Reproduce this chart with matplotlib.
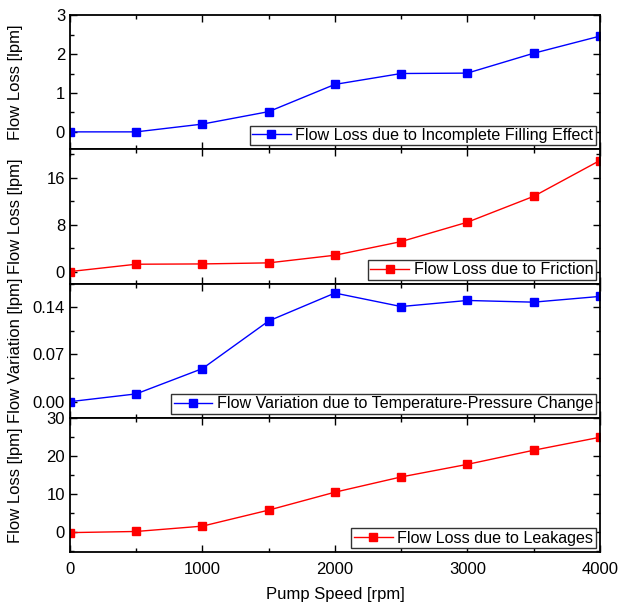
import matplotlib
matplotlib.use("Agg")
import matplotlib.pyplot as plt
from matplotlib.ticker import MultipleLocator

plt.rcParams['font.family'] = ['Liberation Sans', 'DejaVu Sans']
plt.rcParams['font.size'] = 12

# pump speed [rpm]
speed = [0, 500, 1000, 1500, 2000, 2500, 3000, 3500, 4000]

# flow losses / variation [lpm]
filling = [0.0, 0.0, 0.2, 0.52, 1.22, 1.5, 1.51, 2.02, 2.46]
friction = [0.0, 1.25, 1.3, 1.48, 2.78, 5.1, 8.4, 12.8, 18.9]
temp_press = [0.0, 0.0115, 0.049, 0.1196, 0.161, 0.141, 0.150, 0.1475, 0.156]
leakage = [-0.1, 0.2, 1.6, 5.8, 10.5, 14.5, 17.8, 21.5, 24.9]

labels = ['Flow Loss due to Incomplete Filling Effect',
          'Flow Loss due to Friction',
          'Flow Variation due to Temperature-Pressure Change',
          'Flow Loss due to Leakages']
ylabels = ['Flow Loss [lpm]', 'Flow Loss [lpm]', 'Flow Variation [lpm]', 'Flow Loss [lpm]']
colors = ['#0000ff', '#ff0000', '#0000ff', '#ff0000']
series = [filling, friction, temp_press, leakage]

ylims = [(-0.45, 3.0), (-2.05, 20.8), (-0.024, 0.175), (-5.2, 30)]
ymajor = [1, 8, 0.07, 10]
yminor = [0.5, 4, 0.035, 5]
yfmt = ['%d', '%d', '%.2f', '%d']

fig, axes = plt.subplots(4, 1, sharex=True, figsize=(6.19, 6.06), dpi=100)
fig.subplots_adjust(left=0.113, right=0.969, top=0.975, bottom=0.089, hspace=0)

for ax, y, lab, ylab, c, lim, mj, mn, fmt in zip(axes, series, labels, ylabels, colors,
                                                  ylims, ymajor, yminor, yfmt):
    ax.plot(speed, y, color=c, lw=1, marker='s', ms=5.5, label=lab)
    ax.set_xlim(0, 4000)
    ax.set_ylim(*lim)
    ax.yaxis.set_major_locator(MultipleLocator(mj))
    ax.yaxis.set_minor_locator(MultipleLocator(mn))
    ax.yaxis.set_major_formatter(matplotlib.ticker.FormatStrFormatter(fmt))
    ax.xaxis.set_major_locator(MultipleLocator(1000))
    ax.xaxis.set_minor_locator(MultipleLocator(500))
    ax.tick_params(which='both', direction='in', top=True, right=True, width=1)
    ax.tick_params(which='major', length=5)
    ax.tick_params(which='minor', length=3)
    for s in ax.spines.values():
        s.set_linewidth(1.3)
    ax.set_ylabel(ylab)
    ax.yaxis.set_label_coords(-0.088, 0.5)
    leg = ax.legend(loc='lower right', fancybox=False, edgecolor='#333333', framealpha=1,
                    fontsize=11.6, borderpad=0.15, borderaxespad=0.25, handlelength=2.4,
                    handletextpad=0.3)
    leg.get_frame().set_linewidth(1)

axes[-1].tick_params(axis='x', pad=7)
axes[-1].set_xlabel('Pump Speed [rpm]', labelpad=7)

fig.savefig('out.png', dpi=100)
